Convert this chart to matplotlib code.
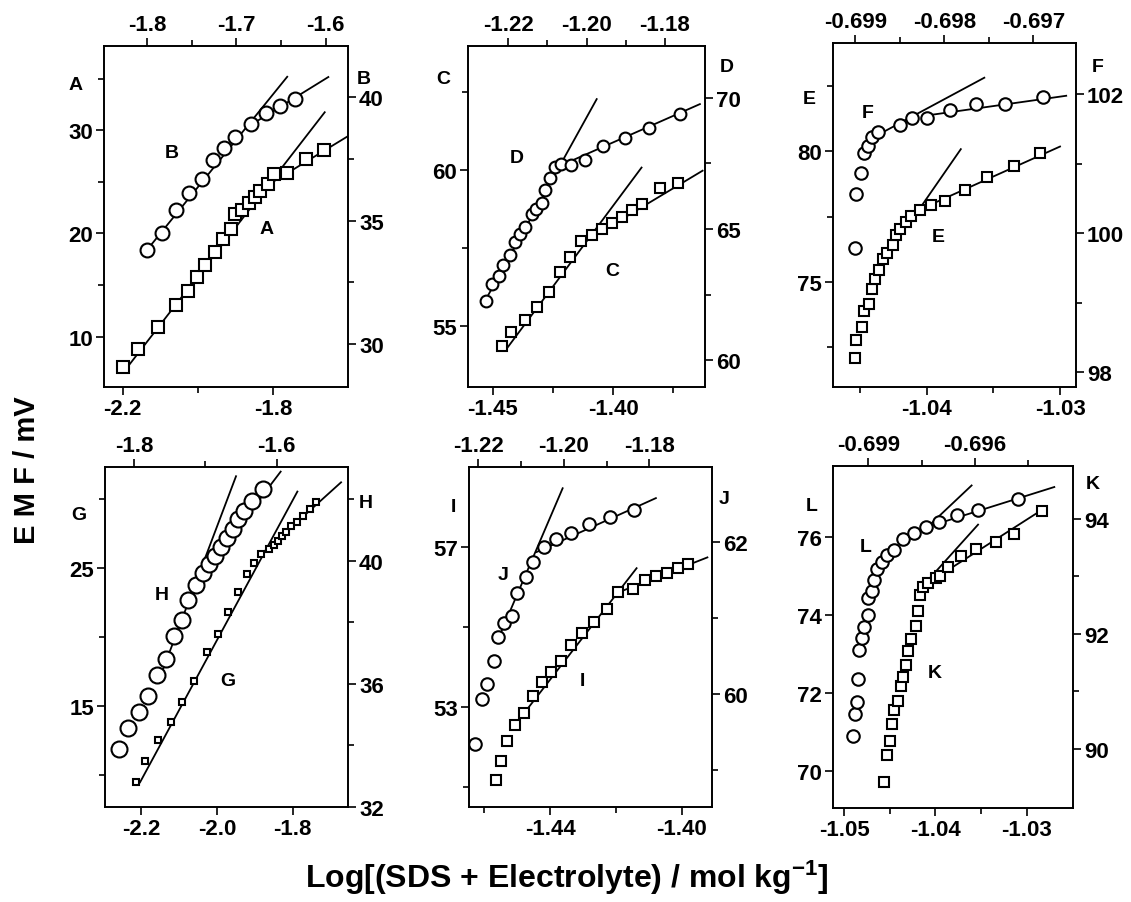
import matplotlib
matplotlib.use('Agg')
import matplotlib.pyplot as plt

plt.rcParams['font.family'] = ['Liberation Sans', 'DejaVu Sans']
plt.rcParams['font.weight'] = 'bold'
plt.rcParams['axes.unicode_minus'] = False
plt.rcParams['mathtext.fontset'] = 'custom'
plt.rcParams['mathtext.rm'] = 'Liberation Sans:bold'
plt.rcParams['mathtext.default'] = 'rm'

W, H = 1131, 903

# ---- panel 1: A (squares, bottom/left), B (circles, top/right) ----
a_x = [-2.200, -2.160, -2.105, -2.058, -2.027, -2.002, -1.980, -1.955, -1.932, -1.913,
       -1.900, -1.882, -1.864, -1.849, -1.834, -1.813, -1.796, -1.763, -1.711, -1.665]
a_y = [7.03, 8.81, 10.97, 13.06, 14.45, 15.74, 16.97, 18.23, 19.45, 20.42,
       21.94, 22.29, 22.94, 23.58, 24.13, 24.77, 25.74, 25.90, 27.19, 28.10]
a_fits = [([-2.191, -1.662], [6.87, 31.77]), ([-1.818, -1.600], [24.61, 29.45])]
b_x = [-1.800, -1.783, -1.768, -1.753, -1.738, -1.726, -1.714, -1.701, -1.684, -1.667, -1.651, -1.634]
b_y = [33.79, 34.50, 35.42, 36.10, 36.67, 37.48, 37.95, 38.39, 38.94, 39.38, 39.65, 39.92]
b_fits = [([-1.798, -1.643], [33.89, 40.84]), ([-1.683, -1.597], [38.90, 40.83])]

# ---- panel 2: C (squares), D (circles) ----
c_x = [-1.4463, -1.4424, -1.4368, -1.4317, -1.4267, -1.4222, -1.4178, -1.4135,
       -1.4090, -1.4046, -1.4004, -1.3963, -1.3921, -1.3882, -1.3806, -1.3732]
c_y = [54.33, 54.81, 55.19, 55.59, 56.09, 56.71, 57.21, 57.70,
       57.92, 58.10, 58.29, 58.47, 58.71, 58.90, 59.40, 59.59]
c_fits = [([-1.4444, -1.3882], [54.25, 60.07]), ([-1.4125, -1.3628], [57.67, 59.97])]
d_x = [-1.2257, -1.2241, -1.2224, -1.2213, -1.2196, -1.2183, -1.2170, -1.2156, -1.2140, -1.2128, -1.2113,
       -1.2105, -1.2092, -1.2081, -1.2066, -1.2040, -1.2004, -1.1959, -1.1902, -1.1840, -1.1762]
d_y = [62.28, 62.91, 63.23, 63.63, 64.01, 64.49, 64.81, 65.06, 65.57, 65.76, 65.99,
       66.48, 66.94, 67.34, 67.47, 67.44, 67.63, 68.16, 68.46, 68.86, 69.39]
d_fits = [([-1.2251, -1.1974], [62.47, 69.94]), ([-1.2077, -1.1711], [67.34, 69.75])]

# ---- panel 3: E (squares), F (circles) ----
e_x = [-1.04543, -1.04530, -1.04488, -1.04470, -1.04433, -1.04413, -1.04388, -1.04363, -1.04333, -1.04300, -1.04258,
       -1.04230, -1.04200, -1.04158, -1.04120, -1.04050, -1.03970, -1.03863, -1.03713, -1.03550, -1.03345, -1.03150]
e_y = [72.07, 72.79, 73.26, 73.87, 74.17, 74.72, 75.10, 75.45, 75.87, 76.12, 76.41,
       76.78, 77.01, 77.29, 77.54, 77.75, 77.96, 78.12, 78.54, 79.02, 79.45, 79.94]
e_fits = [([-1.0405, -1.03745], [77.84, 80.09]), ([-1.04025, -1.0300], [77.84, 80.19])]
f_x = [-0.69900, -0.69899, -0.69894, -0.69890, -0.69886, -0.69881, -0.69875,
       -0.69850, -0.69836, -0.69819, -0.69793, -0.69764, -0.69732, -0.69689]
f_y = [99.79, 100.56, 100.87, 101.15, 101.26, 101.38, 101.46,
       101.56, 101.66, 101.66, 101.78, 101.86, 101.86, 101.96]
f_fits = [([-0.69874, -0.69755], [101.42, 102.24]), ([-0.69823, -0.69663], [101.69, 101.98])]

# ---- panel 4: G (squares), H (circles) ----
g_x = [-2.2132, -2.1894, -2.1560, -2.1217, -2.0909, -2.0593, -2.0267, -1.9960, -1.9696, -1.9432, -1.9212, -1.9018,
       -1.8834, -1.8614, -1.8482, -1.8376, -1.8288, -1.8174, -1.8042, -1.7893, -1.7717, -1.7541, -1.7383]
g_y = [9.54, 11.01, 12.56, 13.84, 15.29, 16.81, 18.91, 20.24, 21.86, 23.26, 24.57, 25.36,
       26.04, 26.40, 26.69, 27.00, 27.37, 27.66, 28.04, 28.33, 28.82, 29.30, 29.78]
g_fits = [([-2.2026, -1.7875], [9.49, 30.56]), ([-1.8816, -1.6723], [26.04, 31.23])]
h_x = [-1.8210, -1.8079, -1.7930, -1.7799, -1.7682, -1.7551, -1.7439, -1.7332, -1.7238, -1.7131,
       -1.7028, -1.6949, -1.6864, -1.6785, -1.6701, -1.6617, -1.6537, -1.6458, -1.6341, -1.6196]
h_y = [33.89, 34.57, 35.08, 35.60, 36.27, 36.81, 37.56, 38.08, 38.72, 39.22,
       39.60, 39.89, 40.14, 40.43, 40.73, 41.03, 41.35, 41.62, 41.95, 42.33]
h_fits = [([-1.7636, -1.6570], [36.21, 42.74]), ([-1.7121, -1.5944], [39.30, 42.89])]

# ---- panel 5: I (squares), J (circles) ----
i_x = [-1.4564, -1.4550, -1.4532, -1.4506, -1.4479, -1.4451, -1.4425, -1.4398, -1.4368, -1.4336,
       -1.4304, -1.4265, -1.4226, -1.4192, -1.4149, -1.4113, -1.4078, -1.4046, -1.4010, -1.3980]
i_y = [51.18, 51.67, 52.17, 52.56, 52.86, 53.28, 53.64, 53.88, 54.17, 54.56,
       54.85, 55.14, 55.46, 55.88, 55.96, 56.18, 56.28, 56.36, 56.48, 56.58]
i_fits = [([-1.4516, -1.4137], [52.46, 56.48]), ([-1.4197, -1.3922], [55.86, 56.75])]
j_x = [-1.22078, -1.21922, -1.21789, -1.21626, -1.21532, -1.21392, -1.21205, -1.21088,
       -1.20893, -1.20713, -1.20464, -1.20191, -1.19840, -1.19404, -1.18920, -1.18359]
j_y = [59.34, 59.93, 60.13, 60.44, 60.75, 60.94, 61.03, 61.33,
       61.54, 61.74, 61.93, 62.04, 62.12, 62.24, 62.33, 62.43]
j_fits = [([-1.21556, -1.20027], [60.70, 62.71]), ([-1.20635, -1.17844], [61.87, 62.58])]

# ---- panel 6: L (circles, bottom/left), K (squares, top/right) ----
l_x = [-1.04909, -1.04883, -1.04865, -1.04854, -1.04836, -1.04810, -1.04781, -1.04737, -1.04737, -1.04700, -1.04675,
       -1.04638, -1.04591, -1.04528, -1.04455, -1.04353, -1.04236, -1.04105, -1.03958, -1.03761, -1.03531, -1.03092]
l_y = [70.88, 71.46, 71.76, 72.36, 73.10, 73.40, 73.70, 74.00, 74.44, 74.63, 74.91,
       75.19, 75.36, 75.53, 75.68, 75.96, 76.10, 76.26, 76.40, 76.57, 76.71, 76.99]
l_fits = [([-1.04061, -1.03604], [76.32, 77.33]), ([-1.04097, -1.02697], [76.26, 77.29])]
k_x = [-0.69855, -0.69846, -0.69839, -0.69834, -0.69827, -0.69816, -0.69808, -0.69803, -0.69795, -0.69788, -0.69781, -0.69766,
       -0.69759, -0.69755, -0.69747, -0.69731, -0.69710, -0.69698, -0.69675, -0.69640, -0.69597, -0.69541, -0.69490, -0.69410]
k_y = [89.42, 89.90, 90.14, 90.43, 90.68, 90.84, 91.10, 91.25, 91.45, 91.71, 91.91, 92.14,
       92.39, 92.67, 92.81, 92.88, 92.97, 93.00, 93.16, 93.36, 93.48, 93.59, 93.74, 94.13]
k_fits = [([-0.69741, -0.69591], [92.87, 93.90]), ([-0.69736, -0.69403], [92.87, 94.19])]


def box(l, t, r, b):
    # pixel box -> figure fraction rect
    return [l / W, 1 - b / H, (r - l) / W, (b - t) / H]


def fig_text(fig, x, y, s, size=14, **kw):
    fig.text(x / W, 1 - y / H, s, ha='center', va='center', fontsize=size, fontweight='bold', **kw)


panels = [
    dict(rect=box(104, 47, 348, 388),
         main=(a_x, a_y, a_fits, 's', 8), twin=(b_x, b_y, b_fits, 'o', 10),
         bottom=((-2.25, -1.60), [-2.2, -1.8], [-2.0], '%.1f'),
         top=((-1.848, -1.575), [-1.8, -1.7, -1.6], [-1.75, -1.65], '%.1f'),
         left=((5.1, 38.2), [10, 20, 30], [15, 25, 35], '%d'),
         right=((28.24, 42.09), [30, 35, 40], [32.5, 37.5], '%d'),
         labels=[('B', 172, 154), ('A', 267, 230)], letters=[('A', 76, 86), ('B', 364, 80)]),
    dict(rect=box(468, 47, 705, 388),
         main=(c_x, c_y, c_fits, 's', 7), twin=(d_x, d_y, d_fits, 'o', 8.5),
         bottom=((-1.4604, -1.3618), [-1.45, -1.40], [-1.425, -1.375], '%.2f'),
         top=((-1.2302, -1.1698), [-1.22, -1.20, -1.18], [-1.21, -1.19], '%.2f'),
         left=((53.03, 63.97), [55, 60], [57.5, 62.5], '%d'),
         right=((58.99, 71.96), [60, 65, 70], [62.5, 67.5], '%d'),
         labels=[('D', 517, 159), ('C', 612, 272)], letters=[('C', 443, 79), ('D', 727, 68)]),
    dict(rect=box(833, 44, 1076, 388),
         main=(e_x, e_y, e_fits, 's', 7), twin=(f_x, f_y, f_fits, 'o', 9),
         bottom=((-1.04705, -1.0288), [-1.04, -1.03], [-1.045, -1.035], '%.2f'),
         top=((-0.69925, -0.69652), [-0.699, -0.698, -0.697], [-0.6985, -0.6975], '%.3f'),
         left=((70.97, 84.16), [75, 80], [72.5, 77.5, 82.5], '%d'),
         right=((97.785, 102.74), [98, 100, 102], [99, 101], '%d'),
         labels=[('F', 868, 113), ('E', 938, 237)], letters=[('E', 809, 100), ('F', 1098, 67)]),
    dict(rect=box(105, 468, 348, 808),
         main=(g_x, g_y, g_fits, 's', 5), twin=(h_x, h_y, h_fits, 'o', 11.5),
         bottom=((-2.295, -1.654), [-2.2, -2.0, -1.8], [], '%.1f'),
         top=((-1.8407, -1.5), [-1.8, -1.6], [-1.7], '%.1f'),
         left=((7.70, 32.34), [15, 25], [10, 20, 30], '%d'),
         right=((32.0, 43.04), [32, 36, 40], [34, 38, 42], '%d'),
         labels=[('H', 162, 596), ('G', 228, 682)], letters=[('G', 79, 515), ('H', 366, 504)]),
    dict(rect=box(469, 468, 712, 808),
         main=(i_x, i_y, i_fits, 's', 7), twin=(j_x, j_y, j_fits, 'o', 9),
         bottom=((-1.4646, -1.3908), [-1.44, -1.40], [-1.46, -1.42], '%.2f'),
         top=((-1.2222, -1.1653), [-1.22, -1.20, -1.18], [-1.21, -1.19], '%.2f'),
         left=((50.51, 59.01), [53, 57], [51, 55], '%d'),
         right=((58.51, 62.99), [60, 62], [59, 61], '%d'),
         labels=[('J', 503, 576), ('I', 582, 682)], letters=[('I', 453, 508), ('J', 724, 500)]),
    dict(rect=box(833, 467, 1073, 809),
         main=(l_x, l_y, l_fits, 'o', 9), twin=(k_x, k_y, k_fits, 's', 6.5),
         bottom=((-1.05124, -1.02492), [-1.05, -1.04, -1.03], [-1.045, -1.035], '%.2f'),
         top=((-0.69999, -0.69324), [-0.699, -0.696], [-0.6975, -0.6945], '%.3f'),
         left=((69.04, 77.83), [70, 72, 74, 76], [], '%d'),
         right=((88.97, 94.92), [90, 92, 94], [91, 93], '%d'),
         labels=[('L', 866, 547), ('K', 935, 674)], letters=[('L', 812, 507), ('K', 1093, 485)]),
]


def set_axis(axis, spec, setlim):
    lim, major, minor, fmt = spec
    setlim(lim)
    axis.set_ticks(major)
    axis.set_ticklabels([fmt % v for v in major])
    axis.set_ticks(minor, minor=True)


def draw_series(ax, series):
    xs, ys, fits, marker, ms = series
    for fx, fy in fits:
        ax.plot(fx, fy, color='black', lw=1.3, zorder=2)
    ax.plot(xs, ys, ls='none', marker=marker, ms=ms, mfc='white', mec='black', mew=1.5, zorder=3)


def plot_data():
    fig = plt.figure(figsize=(W / 100, H / 100), dpi=100)
    for p in panels:
        ax = fig.add_axes(p['rect'])
        ax2 = fig.add_axes(p['rect'], frameon=False)
        ax2.patch.set_visible(False)
        ax2.xaxis.set_ticks_position('top')
        ax2.yaxis.set_ticks_position('right')

        set_axis(ax.xaxis, p['bottom'], ax.set_xlim)
        set_axis(ax.yaxis, p['left'], ax.set_ylim)
        set_axis(ax2.xaxis, p['top'], ax2.set_xlim)
        set_axis(ax2.yaxis, p['right'], ax2.set_ylim)

        for a in (ax, ax2):
            a.tick_params(which='both', direction='out', width=1.2, labelsize=16, pad=2)
            a.tick_params(which='major', length=6)
            a.tick_params(which='minor', length=4)
        for s in ax.spines.values():
            s.set_linewidth(1.4)

        draw_series(ax, p['main'])
        draw_series(ax2, p['twin'])

        for s, x, y in p['labels'] + p['letters']:
            fig_text(fig, x, y, s)

    fig_text(fig, 27, 470, 'E M F / mV', size=21, rotation=90)
    fig_text(fig, 567, 878, r'Log[(SDS + Electrolyte) / mol kg$^{-1}$]', size=23)
    fig.savefig('out.png', dpi=100)


if __name__ == "__main__":
    plot_data()
